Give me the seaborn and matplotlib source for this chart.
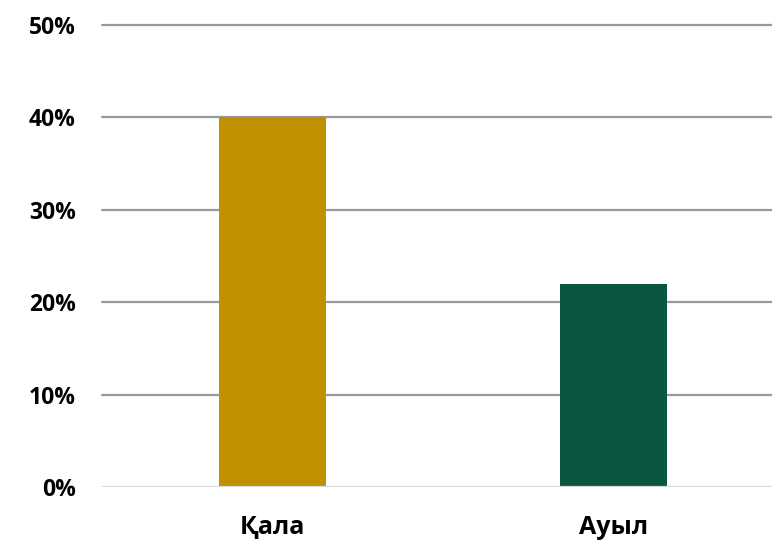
import matplotlib
matplotlib.use("Agg")
import matplotlib.pyplot as plt
import seaborn as sns
import pandas as pd

# chart data
categories = ["Қала", "Ауыл"]
shares = [0.40, 0.22]
bar_colors = ["#BF9000", "#0B5641"]
y_ticks = [0.0, 0.1, 0.2, 0.3, 0.4, 0.5]
y_tick_labels = ["0%", "10%", "20%", "30%", "40%", "50%"]

sns.set_style("white")
plt.rcParams["font.family"] = ["Open Sans", "DejaVu Sans"]
plt.rcParams["font.weight"] = "bold"

df = pd.DataFrame({"category": categories, "share": shares})

fig = plt.figure(figsize=(7.72, 5.45), dpi=100)
ax = fig.add_axes([102 / 772, 1 - 487 / 545, 1 - 102 / 772, (487 - 25) / 545])

sns.barplot(data=df, x="category", y="share", hue="category",
            palette=bar_colors, width=0.314, legend=False, ax=ax,
            saturation=1, linewidth=0, zorder=3)

ax.set_ylim(0, 0.5)
ax.set_xlim(-0.5, 1.465)
ax.set_yticks(y_ticks)
ax.set_yticklabels(y_tick_labels, fontsize=16.5, fontweight="bold", color="black")
ax.tick_params(axis="x", labelsize=18, pad=20, length=0, labelcolor="black")
ax.tick_params(axis="y", pad=19, length=0)
for lbl in ax.get_xticklabels():
    lbl.set_fontweight("bold")

# gridlines: baseline lighter than the rest
for t in y_ticks[1:]:
    ax.axhline(t, color="#999999", linewidth=1.6, zorder=1, clip_on=False)
ax.axhline(0, color="#D9D9D9", linewidth=1.6, zorder=4)

ax.set_xlabel("")
ax.set_ylabel("")
sns.despine(ax=ax, left=True, bottom=True, top=True, right=True)

fig.savefig("out.png", dpi=100)
